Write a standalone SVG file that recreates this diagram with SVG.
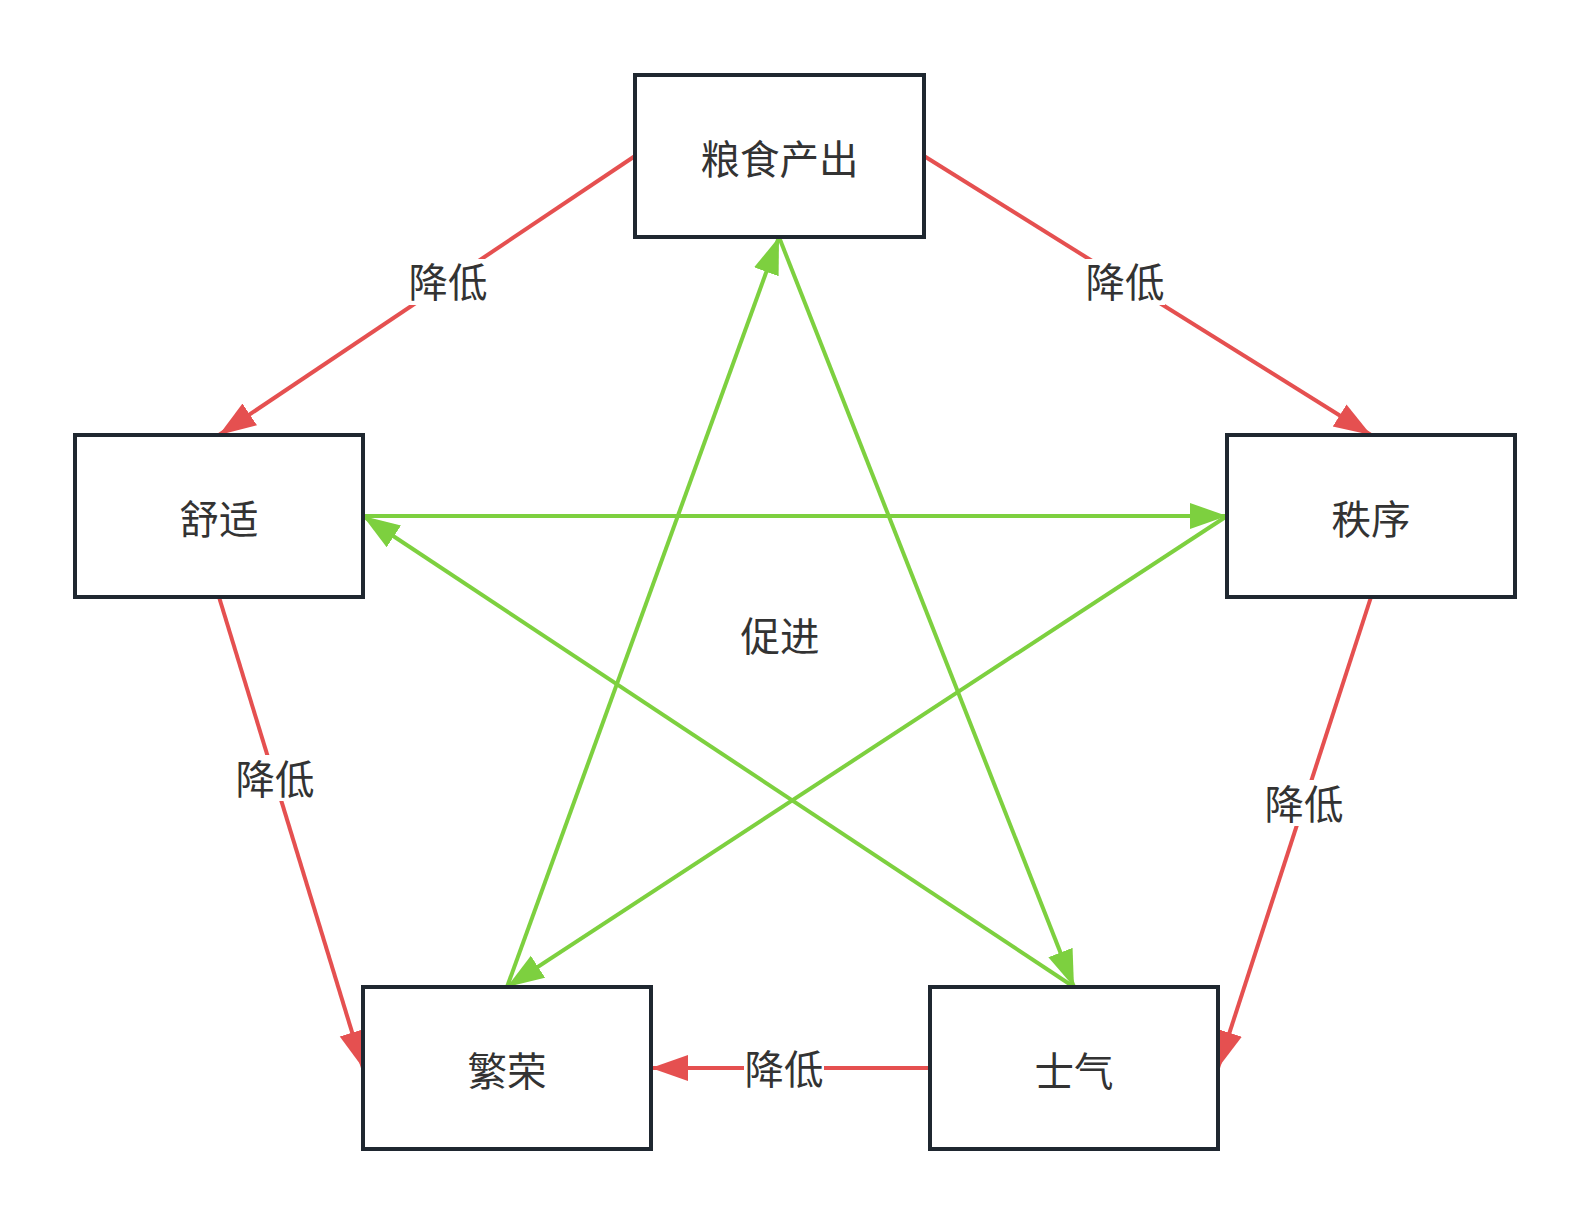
<svg xmlns="http://www.w3.org/2000/svg" width="1590" height="1224" viewBox="0 0 1590 1224">
<defs>
<style>
.node rect{fill:#ffffff;stroke:#1f2730;stroke-width:4}
text{font-family:"Noto Sans CJK SC","Noto Sans",sans-serif;font-size:39.5px;fill:#333333;text-anchor:middle;dominant-baseline:central}
.red{stroke:#e55050;stroke-width:4;fill:none}
.green{stroke:#7dd03f;stroke-width:4;fill:none}
.lbg{fill:#ffffff}
</style>
<marker id="ar" markerUnits="userSpaceOnUse" markerWidth="38" markerHeight="28" refX="37" refY="13" orient="auto">
<path d="M0,0 L37,13 L0,26 z" fill="#e55050"/>
</marker>
<marker id="ag" markerUnits="userSpaceOnUse" markerWidth="38" markerHeight="28" refX="37" refY="13" orient="auto">
<path d="M0,0 L37,13 L0,26 z" fill="#7dd03f"/>
</marker>
</defs>
<rect width="1590" height="1224" fill="#ffffff"/>
<g id="connectors">
<line class="red" x1="635" y1="156" x2="219" y2="435" marker-end="url(#ar)"/>
<line class="red" x1="924" y1="156" x2="1371" y2="435" marker-end="url(#ar)"/>
<line class="red" x1="219" y1="597" x2="363" y2="1068" marker-end="url(#ar)"/>
<line class="red" x1="1371" y1="597" x2="1218" y2="1068" marker-end="url(#ar)"/>
<line class="red" x1="930" y1="1068" x2="651" y2="1068" marker-end="url(#ar)"/>
<line class="green" x1="507" y1="987" x2="779" y2="237" marker-end="url(#ag)"/>
<line class="green" x1="779" y1="237" x2="1074" y2="987" marker-end="url(#ag)"/>
<line class="green" x1="363" y1="516" x2="1227" y2="516" marker-end="url(#ag)"/>
<line class="green" x1="1227" y1="516" x2="507" y2="987" marker-end="url(#ag)"/>
<line class="green" x1="1074" y1="987" x2="363" y2="516" marker-end="url(#ag)"/>
<rect class="lbg" x="408" y="259" width="80" height="46"/>
<text x="448" y="279">降低</text>
<rect class="lbg" x="1085" y="259" width="80" height="46"/>
<text x="1125" y="279">降低</text>
<rect class="lbg" x="235" y="755" width="80" height="46"/>
<text x="275" y="776">降低</text>
<rect class="lbg" x="1264" y="780" width="80" height="46"/>
<text x="1304" y="801">降低</text>
<rect class="lbg" x="744" y="1045" width="80" height="46"/>
<text x="784" y="1066">降低</text>
<text x="780" y="633">促进</text>
</g>
<g id="n1" class="node"><rect x="635" y="75" width="289" height="162"/><text x="779.5" y="156">粮食产出</text></g>
<g id="n2" class="node"><rect x="75" y="435" width="288" height="162"/><text x="219" y="516">舒适</text></g>
<g id="n3" class="node"><rect x="1227" y="435" width="288" height="162"/><text x="1371" y="516">秩序</text></g>
<g id="n4" class="node"><rect x="363" y="987" width="288" height="162"/><text x="507" y="1068">繁荣</text></g>
<g id="n5" class="node"><rect x="930" y="987" width="288" height="162"/><text x="1074" y="1068">士气</text></g>
</svg>
